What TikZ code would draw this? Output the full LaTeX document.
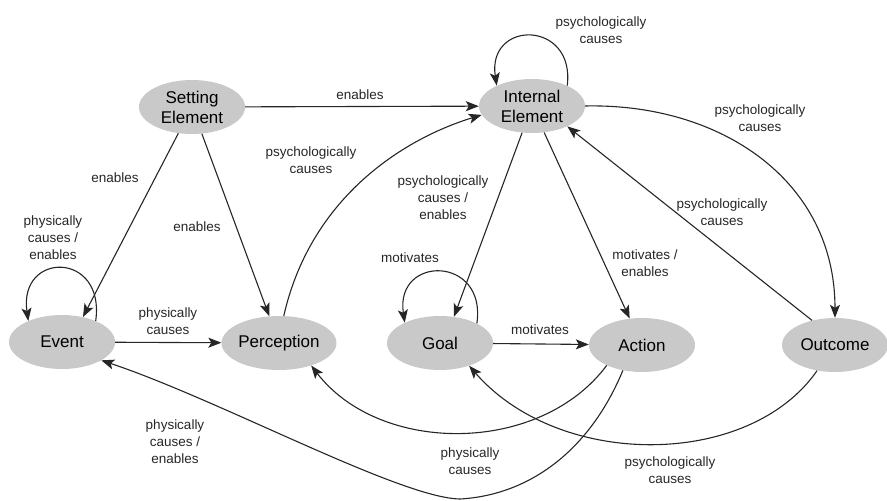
\documentclass[tikz,border=0pt]{standalone}
\usepackage{fontspec}
\setmainfont{Liberation Sans}
\usetikzlibrary{arrows.meta,shapes.geometric}
\begin{document}
\begin{tikzpicture}[x=1pt,y=-1pt,
  state/.style={ellipse,fill=gray!42,minimum width=106pt,minimum height=54pt,
    inner sep=0pt,align=center,font=\fontsize{17}{20}\selectfont},
  lbl/.style={align=center,inner sep=0pt,text=black!85,font=\fontsize{13.5}{17}\selectfont},
  link/.style={-{Stealth[length=13pt,width=10pt,inset=3pt]},line width=1.1pt,black!85}]
\useasboundingbox (0,0) rectangle (887,501);

% states
\node[state] (SE) at (192,107) {Setting\\Element};
\node[state] (IE) at (532,106) {Internal\\Element};
\node[state] (EV) at (62,342) {Event};
\node[state] (PE) at (279,343) {Perception};
\node[state] (GO) at (440,343) {Goal};
\node[state] (AC) at (642,345) {Action};
\node[state] (OU) at (835,345) {Outcome};

% straight links
\draw[link] (SE) -- (IE);
\draw[link] (SE) -- (EV.50);
\draw[link] (SE) -- (PE.110);
\draw[link] (EV) -- (PE);
\draw[link] (IE) -- (GO.62);
\draw[link] (IE) -- (AC.115);
\draw[link] (OU.133) -- (IE.330);
\draw[link] (GO) -- (AC);

% self loops
\draw[link] (EV.32) .. controls +(10,-70) and +(-10,-70) .. (EV.148);
\draw[link] (IE.30) .. controls +(8,-66) and +(-10,-66) .. (IE.150);
\draw[link] (GO.28) .. controls +(10,-68) and +(-10,-68) .. (GO.150);

% curved links
\draw[link] (PE.80) .. controls (310,200) and (400,140) .. (IE.190);
\draw[link] (IE.east) .. controls (720,103) and (835,180) .. (OU.north);
\draw[link] (AC.210) .. controls (540,455) and (380,455) .. (PE.325);
\draw[link] (AC.233) .. controls (590,450) and (530,495) .. (460,499)
  .. controls (400,498) and (220,400) .. (EV.335);
\draw[link] (OU.235) .. controls (750,468) and (560,470) .. (GO.322);

% link labels
\node[lbl] (l1) at (360,95) {enables};
\node[lbl] (l2) at (115,178) {enables};
\node[lbl] (l3) at (197,227) {enables};
\node[lbl] (l4) at (53,238) {physically\\causes /\\enables};
\node[lbl] (l5) at (168,321) {physically\\causes};
\node[lbl] (l6) at (311,160) {psychologically\\causes};
\node[lbl] (l7) at (601,30) {psychologically\\causes};
\node[lbl] (l8) at (760,118) {psychologically\\causes};
\node[lbl] (l9) at (443,198) {psychologically\\causes /\\enables};
\node[lbl] (l10) at (645,263) {motivates /\\enables};
\node[lbl] (l11) at (722,212) {psychologically\\causes};
\node[lbl] (l12) at (410,258) {motivates};
\node[lbl] (l13) at (540,330) {motivates};
\node[lbl] (l14) at (175,442) {physically\\causes /\\enables};
\node[lbl] (l15) at (470,461) {physically\\causes};
\node[lbl] (l16) at (670,470) {psychologically\\causes};
\end{tikzpicture}
\end{document}
